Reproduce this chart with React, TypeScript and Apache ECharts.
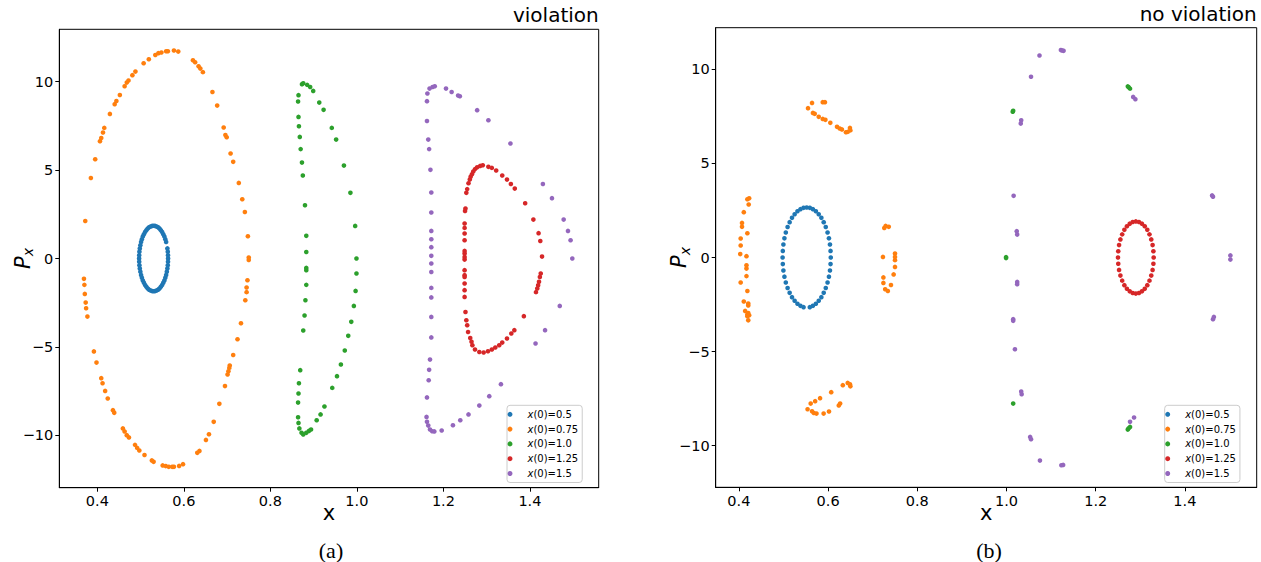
import React, { useEffect, useRef } from "react";
import * as echarts from "echarts";

const seriesNames = ["x(0)=0.5", "x(0)=0.75", "x(0)=1.0", "x(0)=1.25", "x(0)=1.5"];
const colors = ["#1f77b4", "#ff7f0e", "#2ca02c", "#d62728", "#9467bd"];
const xTicks = [0.4, 0.6, 0.8, 1.0, 1.2, 1.4];
const yTicks = [-10, -5, 0, 5, 10];
const panelTitles = ["violation", "no violation"];
const captions = ["(a)", "(b)"];

// ---------- panel (a): violation ----------
const leftBlue = [
  [0.5635, 0], [0.5633, 0.19], [0.5628, 0.38], [0.5619, 0.57], [0.559, 0.93], [0.5571, 1.09], [0.5549, 1.24],
  [0.5524, 1.37], [0.5497, 1.5], [0.5468, 1.6], [0.5436, 1.69], [0.5404, 1.76], [0.537, 1.81], [0.5335, 1.84],
  [0.53, 1.85], [0.5265, 1.84], [0.523, 1.81], [0.5196, 1.76], [0.5164, 1.69], [0.5132, 1.6], [0.5103, 1.5],
  [0.5076, 1.37], [0.5051, 1.24], [0.5029, 1.09], [0.501, 0.93], [0.4994, 0.75], [0.4981, 0.57], [0.4972, 0.38],
  [0.4967, 0.19], [0.4965, 0], [0.4967, -0.19], [0.4972, -0.38], [0.4981, -0.57], [0.4994, -0.75], [0.501, -0.93],
  [0.5029, -1.09], [0.5051, -1.24], [0.5076, -1.37], [0.5103, -1.5], [0.5132, -1.6], [0.5164, -1.69], [0.5196, -1.76],
  [0.523, -1.81], [0.5265, -1.84], [0.53, -1.85], [0.5335, -1.84], [0.537, -1.81], [0.5404, -1.76], [0.5436, -1.69],
  [0.5468, -1.6], [0.5497, -1.5], [0.5524, -1.37], [0.5549, -1.24], [0.5571, -1.09], [0.559, -0.93], [0.5606, -0.75],
  [0.5619, -0.57], [0.5628, -0.38], [0.5633, -0.19],
];
const leftOrange = [
  [0.372, 2.12], [0.385, 4.55], [0.395, 5.61], [0.406, 6.63], [0.409, 6.81], [0.413, 7.12], [0.416, 7.38], [0.429, 8.17],
  [0.44, 8.72], [0.444, 8.9], [0.452, 9.24], [0.463, 9.73], [0.468, 9.94], [0.472, 10.06], [0.481, 10.36], [0.488, 10.56],
  [0.507, 11.03], [0.519, 11.26], [0.534, 11.5], [0.541, 11.6], [0.548, 11.64], [0.559, 11.71], [0.563, 11.71],
  [0.577, 11.75], [0.587, 11.69], [0.621, 11.2], [0.626, 11.09], [0.634, 10.86], [0.638, 10.73], [0.644, 10.53],
  [0.666, 9.41], [0.677, 8.64], [0.692, 7.4], [0.696, 6.98], [0.699, 6.85], [0.708, 5.93], [0.714, 5.46], [0.727, 4.27],
  [0.735, 3.35], [0.741, 2.63], [0.748, 1.26], [0.75, 0.05], [0.75, -0.08], [0.747, -1.23], [0.745, -1.64],
  [0.745, -1.9], [0.742, -2.36], [0.732, -3.66], [0.724, -4.56], [0.714, -5.45], [0.706, -6.05], [0.705, -6.18],
  [0.703, -6.37], [0.701, -6.55], [0.695, -7.21], [0.682, -8.21], [0.669, -9.23], [0.658, -9.93], [0.651, -10.25],
  [0.636, -10.87], [0.631, -10.98], [0.598, -11.62], [0.589, -11.72], [0.577, -11.77], [0.573, -11.77], [0.565, -11.77],
  [0.558, -11.73], [0.551, -11.69], [0.53, -11.49], [0.526, -11.41], [0.509, -11.1], [0.497, -10.85], [0.492, -10.7],
  [0.487, -10.53], [0.473, -10.11], [0.468, -9.98], [0.463, -9.77], [0.459, -9.6], [0.439, -8.72], [0.436, -8.57],
  [0.424, -7.91], [0.418, -7.48], [0.412, -7.05], [0.409, -6.76], [0.398, -5.88], [0.392, -5.25], [0.377, -3.28],
  [0.374, -2.81], [0.373, -2.49], [0.371, -2.0], [0.37, -1.49], [0.369, -1.15],
];
const leftGreen = [
  [0.865, 9.23], [0.864, 8.87], [0.873, 9.85], [0.876, 9.9], [0.885, 9.81], [0.892, 9.69], [0.899, 9.47], [0.913, 8.81],
  [0.923, 8.4], [0.942, 7.38], [0.952, 6.72], [0.97, 5.25], [0.985, 3.71], [0.996, 1.84], [0.999, 0.0], [0.999, -0.85],
  [0.997, -1.83], [0.993, -2.68], [0.987, -3.58], [0.98, -4.37], [0.972, -5.2], [0.963, -5.99], [0.954, -6.65],
  [0.943, -7.31], [0.925, -8.36], [0.916, -8.81], [0.907, -9.14], [0.894, -9.66], [0.889, -9.74], [0.883, -9.85],
  [0.876, -9.94], [0.872, -9.85], [0.867, -9.6], [0.865, -9.29], [0.864, -8.97], [0.864, -8.14], [0.865, -7.63],
  [0.866, -7.05], [0.869, -6.31], [0.876, -4.07], [0.879, -3.22], [0.881, -2.36], [0.883, -1.49], [0.883, -0.66],
  [0.883, -0.53], [0.883, 0.37], [0.883, 1.28], [0.88, 3.01], [0.875, 4.69], [0.873, 5.42], [0.87, 6.18],
  [0.868, 6.87], [0.866, 7.47], [0.865, 8.0],
];
const leftRed = [
  [1.258, 4.25], [1.261, 4.46], [1.263, 4.62], [1.266, 4.76], [1.269, 4.92], [1.273, 5.05], [1.278, 5.15], [1.285, 5.23],
  [1.291, 5.27], [1.304, 5.18], [1.312, 5.12], [1.322, 4.97], [1.336, 4.69], [1.347, 4.46], [1.356, 4.21], [1.365, 3.95],
  [1.389, 3.12], [1.408, 2.2], [1.42, 1.43], [1.424, 0.99], [1.428, 0.11], [1.425, -0.85], [1.423, -1.04], [1.421, -1.32],
  [1.419, -1.51], [1.417, -1.69], [1.414, -1.9], [1.386, -3.26], [1.364, -4.05], [1.357, -4.24], [1.347, -4.52],
  [1.336, -4.75], [1.329, -4.9], [1.32, -5.03], [1.312, -5.14], [1.303, -5.24], [1.293, -5.31], [1.283, -5.28],
  [1.273, -5.14], [1.267, -4.9], [1.265, -4.71], [1.262, -4.49], [1.257, -4.15], [1.255, -3.77], [1.253, -3.49],
  [1.251, -3.02], [1.249, -2.17], [1.249, -1.79], [1.249, -1.41], [1.249, -1.04], [1.249, -0.94], [1.249, -0.66],
  [1.249, -0.06], [1.249, 0.09], [1.249, 0.28], [1.249, 0.43], [1.249, 1.03], [1.249, 1.41], [1.249, 1.73],
  [1.249, 1.98], [1.25, 2.69], [1.251, 2.82], [1.253, 3.71], [1.255, 3.92],
];
const leftPurple = [
  [1.162, 8.89], [1.163, 9.32], [1.168, 9.6], [1.175, 9.69], [1.18, 9.73], [1.206, 9.6], [1.219, 9.41], [1.234, 9.21],
  [1.238, 9.17], [1.278, 8.38], [1.304, 7.81], [1.355, 6.5], [1.43, 4.21], [1.451, 3.41], [1.478, 2.2], [1.488, 1.56],
  [1.494, 1.03], [1.498, 0.0], [1.162, 7.77], [1.165, 6.72], [1.167, 6.18], [1.17, 5.01], [1.172, 3.73], [1.172, 2.6],
  [1.172, 1.56], [1.172, 1.09], [1.172, 0.64], [1.172, 0.15], [1.172, -0.28], [1.172, -0.76], [1.172, -1.66],
  [1.172, -2.2], [1.172, -3.3], [1.172, -4.46], [1.169, -5.71], [1.167, -6.29], [1.166, -6.88], [1.162, -7.85],
  [1.161, -8.95], [1.162, -9.23], [1.165, -9.44], [1.169, -9.66], [1.174, -9.76], [1.179, -9.77], [1.196, -9.72],
  [1.222, -9.42], [1.239, -9.14], [1.258, -8.81], [1.283, -8.31], [1.306, -7.78], [1.333, -7.1], [1.413, -4.8],
  [1.435, -4.05], [1.469, -2.68],
];

// ---------- panel (b): no violation ----------
const rightBlue = [
  [0.606, 0], [0.6055, 0.35], [0.6042, 0.69], [0.6019, 1.02], [0.5988, 1.33], [0.5948, 1.62], [0.5902, 1.88],
  [0.5849, 2.11], [0.579, 2.3], [0.5727, 2.46], [0.566, 2.57], [0.559, 2.64], [0.552, 2.66], [0.545, 2.64],
  [0.538, 2.57], [0.5313, 2.46], [0.525, 2.3], [0.5191, 2.11], [0.5138, 1.88], [0.5092, 1.62], [0.5052, 1.33],
  [0.5021, 1.02], [0.4998, 0.69], [0.4985, 0.35], [0.498, 0], [0.4985, -0.35], [0.4998, -0.69], [0.5021, -1.02],
  [0.5052, -1.33], [0.5092, -1.62], [0.5138, -1.88], [0.5191, -2.11], [0.525, -2.3], [0.5313, -2.46], [0.538, -2.57],
  [0.545, -2.64], [0.559, -2.64], [0.566, -2.57], [0.5727, -2.46], [0.579, -2.3], [0.5849, -2.11], [0.5902, -1.88],
  [0.5948, -1.62], [0.5988, -1.33], [0.6019, -1.02], [0.6042, -0.69], [0.6055, -0.35],
];
const rightOrange = [
  [0.555, 7.94], [0.564, 8.22], [0.566, 7.69], [0.57, 7.64], [0.579, 7.48], [0.588, 7.37], [0.594, 7.32], [0.605, 7.16],
  [0.62, 6.95], [0.626, 6.86], [0.631, 6.81], [0.64, 6.66], [0.644, 6.68], [0.649, 6.89], [0.65, 6.76], [0.588, 8.26],
  [0.593, 8.26], [0.403, 0.18], [0.404, 0.64], [0.404, 1.01], [0.407, 1.63], [0.407, 1.84], [0.411, 2.41], [0.419, 1.29],
  [0.422, 2.82], [0.419, 3.1], [0.423, 3.15], [0.417, 0.07], [0.417, -0.41], [0.417, -0.59], [0.417, -0.99],
  [0.404, -1.33], [0.419, -1.78], [0.411, -2.34], [0.421, -2.45], [0.421, -2.55], [0.414, -2.84], [0.421, -2.95],
  [0.419, -3.03], [0.423, -3.07], [0.419, -3.12], [0.421, -3.34], [0.554, -8.07], [0.561, -7.77], [0.564, -8.18],
  [0.568, -8.27], [0.574, -8.3], [0.571, -7.64], [0.582, -7.48], [0.59, -8.3], [0.602, -8.19], [0.607, -7.16],
  [0.624, -7.87], [0.627, -7.77], [0.633, -6.79], [0.644, -6.67], [0.649, -6.74], [0.65, -6.85], [0.726, 1.57],
  [0.729, 1.68], [0.736, 1.63], [0.723, 0.03], [0.75, 0.21], [0.75, 0.03], [0.75, -0.14], [0.75, -0.5], [0.747, -0.9],
  [0.724, -1.06], [0.724, -1.35], [0.728, -1.69], [0.734, -1.78], [0.741, -1.46],
];
const rightGreen = [
  [0.999, 0.02], [0.999, -0.03], [1.014, 7.75], [1.015, 7.8], [1.272, 9.1], [1.274, 9.05], [1.277, 8.98],
  [1.015, -7.77], [1.272, -9.15], [1.274, -9.08], [1.277, -9.01],
];
const rightRed = [
  [1.33, 0], [1.3294, 0.33], [1.3276, 0.66], [1.3246, 0.96], [1.3206, 1.23], [1.3157, 1.47], [1.31, 1.66], [1.3037, 1.8],
  [1.297, 1.89], [1.29, 1.92], [1.283, 1.89], [1.2763, 1.8], [1.27, 1.66], [1.2643, 1.47], [1.2594, 1.23], [1.2554, 0.96],
  [1.2524, 0.66], [1.2506, 0.33], [1.25, 0], [1.2506, -0.33], [1.2524, -0.66], [1.2554, -0.96], [1.2594, -1.23],
  [1.2643, -1.47], [1.27, -1.66], [1.2763, -1.8], [1.283, -1.89], [1.29, -1.92], [1.297, -1.89], [1.3037, -1.8],
  [1.31, -1.66], [1.3157, -1.47], [1.3206, -1.23], [1.3246, -0.96], [1.3276, -0.66], [1.3294, -0.33],
];
const rightPurple = [
  [1.074, 10.74], [1.122, 11.03], [1.125, 11.01], [1.128, 10.99], [1.055, 9.61], [1.033, 7.3], [1.032, 7.12],
  [1.284, 8.54], [1.289, 8.42], [1.016, 3.28], [1.023, 1.4], [1.024, 1.22], [1.461, 3.3], [1.463, 3.23], [1.502, 0.11],
  [1.502, -0.11], [1.024, -1.3], [1.024, -1.42], [1.015, -3.28], [1.015, -3.37], [1.019, -4.88], [1.033, -7.13],
  [1.034, -7.27], [1.053, -9.54], [1.055, -9.66], [1.075, -10.8], [1.123, -11.05], [1.127, -11.03], [1.277, -8.74],
  [1.286, -8.51], [1.463, -3.28], [1.465, -3.16],
];

const leftData = [leftBlue, leftOrange, leftGreen, leftRed, leftPurple];
const rightData = [rightBlue, rightOrange, rightGreen, rightRed, rightPurple];

const FONT = "DejaVu Sans";

function makeXAxis(gi: number, min: number, max: number) {
  return {
    gridIndex: gi,
    type: "value",
    min,
    max,
    axisLine: { show: true, onZero: false, lineStyle: { color: "#000", width: 1 } },
    axisTick: { show: true, inside: false, length: 4, customValues: xTicks, lineStyle: { color: "#000" } },
    axisLabel: {
      customValues: xTicks,
      formatter: (v: number) => v.toFixed(1),
      color: "#000",
      fontSize: 14.5,
      fontFamily: FONT,
      margin: 6,
    },
    splitLine: { show: false },
    name: "x",
    nameLocation: "middle",
    nameGap: 15,
    nameMoveOverlap: false,
    nameTextStyle: { fontSize: 21, color: "#000", fontFamily: FONT },
  };
}

function makeYAxis(gi: number, min: number, max: number) {
  return {
    gridIndex: gi,
    type: "value",
    min,
    max,
    axisLine: { show: true, onZero: false, lineStyle: { color: "#000", width: 1 } },
    axisTick: { show: true, inside: false, length: 4, customValues: yTicks, lineStyle: { color: "#000" } },
    axisLabel: {
      customValues: yTicks,
      formatter: (v: number) => String(v).replace("-", "\u2212"),
      color: "#000",
      fontSize: 14.5,
      fontFamily: FONT,
      margin: 6,
    },
    splitLine: { show: false },
    name: "{p|P}{s|x}",
    nameLocation: "middle",
    nameGap: 24,
    nameMoveOverlap: false,
    nameTextStyle: {
      color: "#000",
      rich: {
        p: { fontSize: 21, fontStyle: "italic", fontFamily: FONT, color: "#000" },
        s: { fontSize: 14, fontStyle: "italic", fontFamily: FONT, color: "#000", padding: [11, 0, 0, 0] },
      },
    },
  };
}

function makeLegend(left: number) {
  return {
    orient: "vertical",
    left,
    top: 405.3,
    icon: "circle",
    itemWidth: 25,
    itemHeight: 5,
    itemGap: 2.8,
    padding: [3, 4, 3, 0.5],
    backgroundColor: "rgba(255,255,255,0.8)",
    borderColor: "#cccccc",
    borderWidth: 1,
    borderRadius: 3,
    data: seriesNames,
    selectedMode: false,
    formatter: (name: string) => name.replace(/^x/, "{i|x}"),
    textStyle: {
      fontSize: 10,
      lineHeight: 12,
      fontFamily: FONT,
      color: "#000",
      rich: { i: { fontSize: 10, fontStyle: "italic", fontFamily: FONT, color: "#000" } },
    },
  };
}

export default function App() {
  const ref = useRef<HTMLDivElement>(null);
  useEffect(() => {
    if (!ref.current) return;
    const chart = echarts.init(ref.current, null, { renderer: "svg" });
    const series: any[] = [];
    [leftData, rightData].forEach((group, gi) => {
      group.forEach((data, i) => {
        series.push({
          type: "scatter",
          name: seriesNames[i],
          xAxisIndex: gi,
          yAxisIndex: gi,
          data,
          symbol: "circle",
          symbolSize: 4.6,
          itemStyle: { color: colors[i], opacity: 1 },
          emphasis: { disabled: true },
          silent: true,
        });
      });
    });
    chart.setOption({
      animation: false,
      backgroundColor: "#ffffff",
      title: [
        {
          text: panelTitles[0],
          right: 1261 - 598.7,
          top: 5,
          padding: 0,
          textStyle: { fontSize: 20, fontWeight: "normal", fontFamily: FONT, color: "#000" },
        },
        {
          text: panelTitles[1],
          right: 1261 - 1256.7,
          top: 3.5,
          padding: 0,
          textStyle: { fontSize: 20, fontWeight: "normal", fontFamily: FONT, color: "#000" },
        },
      ],
      grid: [
        { left: 59.3, top: 29.3, width: 539.4, height: 458.4, show: true, borderColor: "#000", borderWidth: 1, containLabel: false },
        { left: 715.7, top: 27.7, width: 541, height: 459.6, show: true, borderColor: "#000", borderWidth: 1, containLabel: false },
      ],
      xAxis: [makeXAxis(0, 0.312, 1.559), makeXAxis(1, 0.348, 1.561)],
      yAxis: [makeYAxis(0, -12.95, 12.95), makeYAxis(1, -12.22, 12.22)],
      legend: [makeLegend(507), makeLegend(1164.7)],
      graphic: [
        {
          type: "text",
          x: 331,
          y: 550,
          style: { text: captions[0], fontSize: 22, fontFamily: "Liberation Serif", fill: "#000", textAlign: "center", textVerticalAlign: "middle" },
        },
        {
          type: "text",
          x: 989,
          y: 550,
          style: { text: captions[1], fontSize: 22, fontFamily: "Liberation Serif", fill: "#000", textAlign: "center", textVerticalAlign: "middle" },
        },
      ],
      series,
    });
    return () => chart.dispose();
  }, []);
  return (
    <div
      ref={ref}
      style={{ position: "fixed", left: 0, top: 0, width: 1261, height: 562, background: "#fff" }}
    />
  );
}
